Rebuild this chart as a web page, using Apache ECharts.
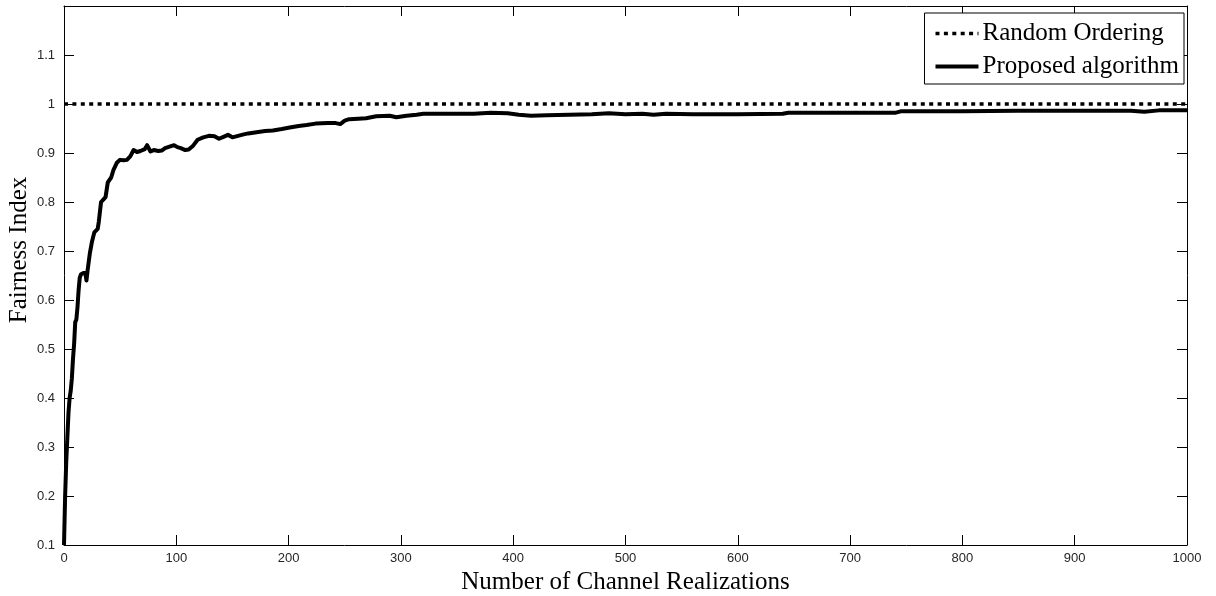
<!DOCTYPE html>
<html>
<head>
<meta charset="utf-8">
<script src="https://cdn.jsdelivr.net/npm/echarts@6/dist/echarts.min.js"></script>
<style>
html,body{margin:0;padding:0;background:#fff;}
#chart{width:1216px;height:596px;}
</style>
</head>
<body>
<div id="chart"></div>
<script>
// ---- data ----
const seriesNames = ['Random Ordering', 'Proposed algorithm'];
const randomX = [0, 1000];
const randomY = [1, 1];
const propX = [0,1,2,3,4,5,6,7,8,9,10,11,12,13,14,15,17,19,20,21,23,25,27,28,30,31,33,35,37,39,42,44,47,50,53,56,59,62,65,68,72,74,77,80,84,87,90,94,98,101,104,108,111,115,119,124,129,134,138,142,146,150,155,160,164,170,179,186,194,201,209,216,224,235,242,246,250,254,262,269,278,290,296,305,314,320,344,365,380,395,405,416,430,450,470,485,500,515,525,536,560,600,640,645,700,740,745,800,850,900,950,962,975,1000];
const propY = [0.10,0.20,0.27,0.32,0.37,0.40,0.415,0.44,0.48,0.51,0.555,0.56,0.585,0.62,0.645,0.652,0.655,0.655,0.640,0.660,0.695,0.720,0.738,0.740,0.745,0.760,0.800,0.805,0.810,0.840,0.850,0.865,0.880,0.886,0.885,0.886,0.893,0.906,0.902,0.904,0.908,0.916,0.903,0.906,0.904,0.905,0.910,0.913,0.916,0.912,0.910,0.906,0.907,0.915,0.927,0.932,0.935,0.934,0.929,0.933,0.937,0.932,0.935,0.938,0.940,0.942,0.945,0.946,0.949,0.952,0.955,0.957,0.960,0.961,0.961,0.959,0.966,0.969,0.970,0.971,0.975,0.976,0.973,0.976,0.978,0.980,0.980,0.980,0.982,0.981,0.978,0.976,0.977,0.978,0.979,0.981,0.979,0.980,0.978,0.980,0.979,0.979,0.980,0.982,0.982,0.982,0.985,0.985,0.986,0.986,0.986,0.984,0.987,0.987];
const xTicks = {min: 0, max: 1000, interval: 100};
const yTicks = {min: 0.1, max: 1.2, interval: 0.1};
const xTitle = 'Number of Channel Realizations';
const yTitle = 'Fairness Index';

const zip = (xs, ys) => xs.map((x, i) => [x, ys[i]]);
const tickFont = {fontFamily: 'Liberation Sans, Arial, sans-serif', fontSize: 13, color: '#262626'};
const serif = 'Liberation Serif, Times New Roman, serif';
const axLine = {show: true, onZero: false, lineStyle: {color: '#000', width: 1}};
const tickIn = {show: true, inside: true, length: 10, lineStyle: {color: '#000', width: 1}};
const dotted = {color: '#000', width: 3.5, type: [4, 4.4], cap: 'butt'};
const solid = {color: '#000', width: 4, type: 'solid', join: 'round'};

const chart = echarts.init(document.getElementById('chart'), null, {renderer: 'canvas'});
chart.setOption({
  animation: false,
  backgroundColor: '#fff',
  grid: {left: 64, right: 29, top: 6, bottom: 51, containLabel: false, outerBoundsMode: 'none'},
  legend: {
    orient: 'vertical', right: 32, top: 13,
    backgroundColor: '#fff',
    borderColor: '#000', borderWidth: 1, borderRadius: 0,
    padding: [8, 5, 5, 9], itemGap: 8,
    itemWidth: 43, itemHeight: 14,
    itemStyle: {opacity: 0},
    textStyle: {fontFamily: serif, fontSize: 25, color: '#000', lineHeight: 24, padding: [0,0,0,-1]},
    data: [
      {name: seriesNames[0], itemStyle: {opacity: 0}, lineStyle: dotted},
      {name: seriesNames[1], itemStyle: {opacity: 0}, lineStyle: solid}
    ]
  },
  graphic: [
    {type: 'text', x: 19, y: 250, rotation: Math.PI / 2, silent: true,
     style: {text: yTitle, fontFamily: serif, fontSize: 25, fill: '#000', align: 'center', verticalAlign: 'middle'}}
  ],
  xAxis: [
    {type: 'value', position: 'bottom', min: xTicks.min, max: xTicks.max, interval: xTicks.interval,
     axisLine: axLine, axisTick: tickIn, splitLine: {show: false},
     axisLabel: Object.assign({margin: 7, formatter: v => String(v)}, tickFont),
     name: xTitle, nameLocation: 'middle', nameGap: 23,
     nameTextStyle: {fontFamily: serif, fontSize: 25, color: '#000'}},
    {type: 'value', position: 'top', min: xTicks.min, max: xTicks.max, interval: xTicks.interval,
     axisLine: axLine, axisTick: tickIn, splitLine: {show: false}, axisLabel: {show: false}}
  ],
  yAxis: [
    {type: 'value', position: 'left', min: yTicks.min, max: yTicks.max, interval: yTicks.interval,
     axisLine: axLine, axisTick: tickIn, splitLine: {show: false},
     axisLabel: Object.assign({margin: 9, formatter: v => (Math.abs(v - 1.2) < 1e-9 ? '' : String(+v.toFixed(2)))}, tickFont)},
    {type: 'value', position: 'right', min: yTicks.min, max: yTicks.max, interval: yTicks.interval,
     axisLine: axLine, axisTick: tickIn, splitLine: {show: false}, axisLabel: {show: false}}
  ],
  series: [
    {name: seriesNames[0], type: 'line', data: zip(randomX, randomY), showSymbol: false, symbol: 'none',
     color: '#000', lineStyle: dotted, z: 3},
    {name: seriesNames[1], type: 'line', data: zip(propX, propY), showSymbol: false, symbol: 'none',
     color: '#000', lineStyle: solid, z: 2}
  ]
});
</script>
</body>
</html>
